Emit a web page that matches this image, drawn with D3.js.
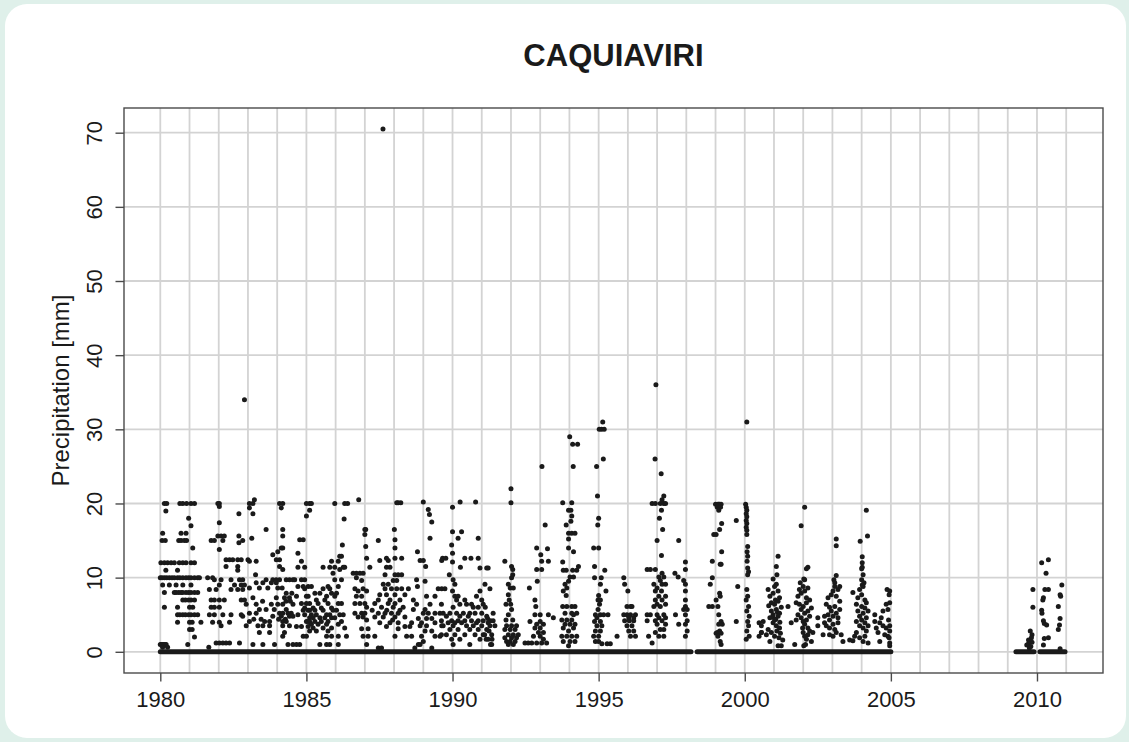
<!DOCTYPE html>
<html>
<head>
<meta charset="utf-8">
<script src="https://cdn.jsdelivr.net/npm/d3@7"></script>
<style>
  html, body { margin: 0; padding: 0; background: #dff0ea; }
  svg { display: block; font-family: "Liberation Sans", Arial, sans-serif; }
</style>
</head>
<body>
<svg id="chart"></svg>
<script>
// size of the page and of the plot box
const width = 1129; const height = 742;
const margin = {top: 108, right: 26, bottom: 69, left: 124};
const innerWidth = width - margin.left - margin.right;
const innerHeight = height - margin.top - margin.bottom;

const title = "CAQUIAVIRI";
const yTitle = "Precipitation [mm]";
const xTicks = [1980, 1985, 1990, 1995, 2000, 2005, 2010];
const yTicks = [0, 10, 20, 30, 40, 50, 60, 70];
const gridYears = d3.range(1980, 2012);

// periods with daily zero values (decimal years)
const zeroRuns = [[1980.0, 1998.16], [1998.37, 2005.0], [2009.28, 2009.9], [2010.1, 2010.96]];

// rain days read row by row: [mm, [decimal years]]
const rain1980 = [
  [34, [1982.88]],
  [20, [1980.14, 1980.22, 1980.67, 1980.77, 1980.9, 1981.05, 1981.17, 1981.97, 1982.02]],
  [19.6, [1982.02]], [19, [1980.19]], [18.6, [1982.69]], [18, [1980.97]], [17.4, [1982.02]], [17, [1981.05]],
  [16, [1980.08, 1980.71, 1980.88]],
  [15.6, [1981.97, 1982.08, 1982.19, 1982.69]],
  [15, [1980.06, 1980.17, 1980.63, 1980.71, 1980.82, 1980.9, 1981.74, 1981.85, 1982.14, 1982.82]],
  [14.7, [1982.69]], [14, [1981.11]], [13.8, [1982.02]],
  [12.4, [1982.25, 1982.37, 1982.48, 1982.65, 1982.77]],
  [12, [1980.02, 1980.14, 1980.25, 1980.37, 1980.48, 1980.65, 1980.77, 1980.88, 1981.05, 1981.17]],
  [11.5, [1982.25, 1982.65]],
  [11, [1980.19, 1980.59, 1982.65]],
  [10, [1980.0, 1980.06, 1980.14, 1980.22, 1980.31, 1980.4, 1980.48, 1980.59, 1980.67, 1980.77, 1980.88, 1980.97, 1981.05, 1981.17, 1981.28, 1981.34, 1981.62, 1981.79]],
  [9.7, [1981.85, 1982.08, 1982.42, 1982.71, 1982.82]],
  [9, [1980.08, 1980.31, 1980.54, 1980.77, 1981.05, 1982.02, 1982.54, 1982.77, 1982.88]],
  [8.4, [1981.68, 1981.91, 1982.42, 1982.65, 1982.82]],
  [8, [1980.14, 1980.48, 1980.54, 1980.63, 1980.71, 1980.77, 1980.88, 1980.97, 1981.05, 1981.17, 1981.28]],
  [7, [1980.77, 1980.86, 1980.97, 1981.05, 1981.17, 1981.74, 1981.85, 1982.02, 1982.19, 1982.77, 1982.88]],
  [6, [1980.14, 1980.59, 1981.0, 1981.11, 1981.74, 1981.85, 1982.02]],
  [5, [1980.59, 1980.67, 1980.77, 1980.86, 1980.97, 1981.05, 1981.17, 1981.28, 1981.68, 1981.85, 1982.14, 1982.42, 1982.77]],
  [4, [1980.59, 1981.0, 1981.09, 1981.39, 1981.79, 1982.02, 1982.37]],
  [3.5, [1982.08]], [3, [1981.0, 1981.09]], [2, [1981.17]],
  [1.2, [1981.91, 1982.02, 1982.14, 1982.25, 1982.37, 1982.71]],
  [1, [1980.0, 1980.04, 1980.08, 1980.12, 1980.16, 1980.2, 1980.94]],
  [0.6, [1980.08, 1980.25, 1981.66]]
];

const rain1983 = [
  [20.5, [1983.22]],
  [20, [1983.05, 1983.17, 1984.08, 1984.19]],
  [19.4, [1983.05, 1984.14]], [18.6, [1983.17]],
  [16.5, [1983.62, 1984.19]], [15.6, [1984.19]], [15.3, [1983.13]],
  [14, [1984.14, 1984.19]], [13.5, [1984.02]], [13.1, [1983.85]],
  [12.4, [1983.0, 1983.97, 1984.08]], [12.2, [1983.05, 1983.28]],
  [11.5, [1984.08]], [11.1, [1984.19]], [10.4, [1983.26]],
  [9.7, [1983.62, 1983.85, 1983.97, 1984.08, 1984.31, 1984.42, 1984.54]],
  [9.3, [1983.28, 1983.51, 1983.8, 1983.97]],
  [8.6, [1983.05, 1983.39, 1983.68, 1984.02, 1984.17]],
  [7.9, [1984.31, 1984.5]],
  [7.3, [1983.17, 1983.97, 1984.25, 1984.42]],
  [6.8, [1984.3, 1984.45, 1983.5]],
  [6.4, [1982.94, 1983.28, 1983.8, 1984.02, 1984.19, 1984.54]],
  [5.7, [1983.39, 1983.62, 1984.31, 1983.9]],
  [5.2, [1983.05, 1983.28, 1984.08, 1984.19, 1984.37, 1984.48]],
  [4.8, [1982.82, 1983.85, 1984.14, 1984.42, 1984.54]],
  [4.4, [1983.2, 1983.45, 1984.05, 1984.28]],
  [4.1, [1983.05, 1983.57, 1983.74, 1984.19, 1984.31]],
  [3.5, [1982.94, 1983.34, 1983.51, 1983.74, 1984.19, 1984.42]],
  [2.6, [1983.39, 1983.74, 1984.25]],
  [2.1, [1984.19]],
  [1, [1983.17, 1983.51, 1983.91, 1984.37, 1984.54]]
];

const rain1985 = [
  [20, [1985.0, 1985.11, 1985.17, 1985.97, 1986.31, 1986.41]],
  [19.1, [1985.11]], [18.3, [1985.0]], [17.9, [1986.29]],
  [15.1, [1984.77, 1984.89]], [14.4, [1986.23]], [13.3, [1984.71]],
  [12.9, [1986.14, 1986.2]],
  [12.2, [1984.83, 1985.86, 1986.09]],
  [11.4, [1984.71, 1984.94, 1985.57, 1985.8, 1985.97, 1986.26, 1986.31]],
  [11.1, [1986.14]], [10.6, [1985.91]],
  [9.7, [1984.6, 1984.83, 1984.94, 1985.97, 1986.2]],
  [8.8, [1984.71, 1984.89, 1985.06, 1985.17, 1985.74, 1986.09]],
  [8.5, [1984.94, 1985.57, 1985.8]],
  [7.9, [1985.29, 1985.46, 1985.86, 1986.03]],
  [7.5, [1984.66, 1985.0, 1985.06, 1985.69, 1985.97]],
  [7, [1985.34, 1985.63]],
  [6.5, [1984.83, 1985.0, 1985.11, 1985.4, 1985.74, 1986.09, 1986.2]],
  [5.9, [1984.94, 1985.23, 1985.51, 1985.86]],
  [5.6, [1984.89, 1985.06, 1985.11, 1985.29, 1985.57, 1985.91, 1986.03]],
  [5, [1984.71, 1984.94, 1985.17, 1985.34, 1985.69, 1985.8, 1986.14, 1986.26]],
  [4.6, [1985.11, 1985.23, 1985.46, 1985.63, 1985.86, 1985.97]],
  [4.1, [1985.0, 1985.06, 1985.11, 1985.29, 1985.51, 1985.74, 1986.2]],
  [3.7, [1985.17, 1985.4, 1985.69, 1986.09]],
  [3.4, [1984.66, 1984.83, 1985.06]],
  [3.2, [1985.23, 1985.57, 1985.86, 1986.31]],
  [2.8, [1985.11, 1985.34, 1985.74]],
  [2.1, [1984.89, 1985.0, 1985.69, 1985.86, 1986.09, 1986.37]],
  [1, [1984.66, 1984.77, 1985.46, 1985.69, 1985.8, 1986.09]]
];

const rain1987 = [
  [70.5, [1987.62]],
  [20.5, [1986.79]],
  [20.1, [1988.09, 1988.14, 1988.23]],
  [16.5, [1987.0, 1987.03, 1988.01]], [15.8, [1987.0]], [15.1, [1988.03]], [15, [1987.46]],
  [14.2, [1987.03]], [14, [1988.03]],
  [12.6, [1987.06, 1987.74, 1988.03, 1988.26]],
  [12.3, [1987.51, 1987.8]],
  [11.4, [1987.17, 1987.74, 1987.86]],
  [10.6, [1986.6, 1986.71, 1986.83, 1986.94]],
  [10.4, [1987.69, 1988.03, 1988.14, 1988.26]],
  [10, [1986.71]],
  [9.6, [1986.89, 1987.97, 1988.09]],
  [9.1, [1987.63, 1987.8]],
  [8.5, [1986.66, 1986.94, 1987.69, 1987.91, 1988.09, 1988.26, 1988.49]],
  [8.2, [1986.77, 1987.06]],
  [7.7, [1987.51, 1987.74, 1988.03, 1988.37]],
  [7.5, [1986.71, 1986.89]],
  [7, [1987.46, 1987.86, 1988.2]],
  [6.5, [1986.66, 1986.83, 1987.0, 1987.34, 1987.8, 1988.03]],
  [6, [1987.06, 1987.57, 1987.97, 1988.31]],
  [5.6, [1987.25, 1987.75, 1988.2]],
  [5.2, [1986.66, 1986.89, 1987.0, 1987.46, 1987.69, 1987.91, 1988.14]],
  [4.7, [1986.77, 1986.94, 1987.34, 1987.63, 1988.03, 1988.37]],
  [4.3, [1987.06, 1987.95]],
  [3.9, [1987.51, 1987.86, 1988.14]],
  [3.4, [1987.74, 1988.37, 1988.54]],
  [3.1, [1986.89, 1987.11, 1988.14]],
  [2.1, [1986.94, 1987.11, 1987.34, 1988.03, 1988.43, 1988.6]],
  [1, [1987.06]],
  [0.5, [1987.46, 1987.57]]
];

const rain1989 = [
  [20.2, [1989.0, 1990.26, 1990.79]],
  [19.5, [1990.0]], [19.2, [1989.17]], [18.5, [1989.21]], [17.5, [1989.29]],
  [16.2, [1990.0, 1990.31]],
  [15.3, [1989.23, 1990.19, 1990.88]],
  [14.4, [1989.97]], [13.5, [1988.8]], [13.3, [1990.0]],
  [12.6, [1989.66, 1989.77, 1990.42, 1990.63, 1990.88]],
  [12.3, [1988.89, 1989.0, 1989.63]],
  [12.1, [1990.0]], [11.5, [1989.08]], [11.4, [1990.27]],
  [11.3, [1990.94, 1991.17, 1991.22]],
  [10.4, [1989.89]],
  [9.7, [1988.77, 1990.02]], [9.5, [1989.06]], [9.1, [1990.08, 1991.11]], [8.8, [1988.8]],
  [8.5, [1989.51, 1989.63, 1989.74, 1991.28]],
  [8.2, [1990.0, 1990.94]],
  [7.5, [1989.11, 1989.4, 1990.08, 1990.19, 1990.82]],
  [7, [1988.66, 1990.14, 1990.42, 1991.0]],
  [6.4, [1988.77, 1989.23, 1989.62, 1990.25, 1990.48, 1990.65, 1991.05]],
  [6, [1990.02, 1990.71, 1990.88, 1991.12]],
  [5.7, [1988.66, 1989.06]],
  [5.2, [1989.0, 1989.17, 1989.4, 1989.57, 1989.68, 1989.91, 1990.14, 1990.37, 1990.59, 1990.77, 1991.0, 1991.39]],
  [4.8, [1989.79, 1990.25, 1990.54, 1991.17]],
  [4.5, [1988.83, 1989.11, 1989.29, 1991.2]],
  [4.2, [1989.62, 1989.97, 1990.19, 1990.42, 1990.65, 1990.88, 1991.05, 1991.3, 1991.39]],
  [3.9, [1988.6, 1988.94, 1989.4, 1989.85, 1990.08, 1990.31, 1990.82, 1991.22]],
  [3.5, [1988.89, 1989.11, 1989.63, 1989.68, 1990.02, 1990.48, 1990.71, 1991.0, 1991.28, 1991.45]],
  [3, [1989.91, 1990.19, 1990.59, 1990.88, 1991.17]],
  [2.8, [1989.06, 1989.29, 1991.25]],
  [2.3, [1989.62, 1989.79, 1990.08, 1990.42, 1990.77, 1991.05, 1991.1, 1991.34]],
  [2.1, [1988.94, 1989.4, 1989.57]],
  [1.7, [1989.97, 1990.25, 1990.94, 1991.15, 1991.22, 1991.35]],
  [1.4, [1989.0]],
  [1, [1988.83, 1988.89, 1990.02, 1990.59, 1991.3, 1991.34]],
  [0.5, [1988.71, 1989.29]]
];

const rain1992 = [
  [25, [1993.06]], [22, [1992.0]], [20.1, [1992.0]], [17.1, [1993.17]],
  [14, [1992.88]], [13.9, [1993.25]], [13.1, [1993.02]],
  [12.2, [1991.79, 1993.05, 1993.28]],
  [11.5, [1992.02]], [11.1, [1992.06, 1992.88, 1993.05]],
  [10.4, [1992.06]], [10, [1992.02]], [9.5, [1992.9]], [9.1, [1991.91]],
  [8.6, [1991.97, 1992.08, 1992.63]], [7.7, [1991.91]], [7, [1991.94, 1992.82]],
  [6.4, [1991.83, 1991.99]], [6.1, [1992.85]], [5.7, [1992.02]],
  [5, [1991.91, 1992.82, 1993.0, 1993.28]],
  [4.6, [1993.45]], [4.3, [1991.83, 1992.06]], [4.1, [1992.65, 1993.0]],
  [3.7, [1992.88, 1993.11]], [3.5, [1991.85, 1992.02, 1992.19]],
  [3.2, [1992.82, 1993.0]], [3, [1991.79, 1991.97, 1992.14]],
  [2.6, [1992.94, 1993.11]], [2.3, [1991.91, 1992.08, 1992.25]],
  [2.1, [1992.77, 1993.0]], [1.9, [1991.79, 1992.02, 1992.19]],
  [1.7, [1993.11]], [1.4, [1991.85, 1991.97, 1992.14]],
  [1.2, [1992.48, 1992.59, 1992.71, 1992.88, 1993.05, 1993.22]],
  [1, [1991.91, 1992.08]]
];

const rain1994 = [
  [31, [1995.14]], [30, [1995.02, 1995.1, 1995.19]], [29, [1994.01]],
  [28, [1994.11, 1994.28]], [26, [1995.16]], [25, [1994.13, 1994.93]], [21, [1994.96]],
  [20.1, [1993.77, 1994.08]], [19.1, [1993.97, 1994.05]], [18.3, [1994.08]], [18, [1995.0]],
  [17.6, [1994.05]], [17.1, [1993.89, 1994.97]],
  [16, [1993.97, 1994.08, 1994.19]], [15.2, [1993.97]],
  [14, [1993.97, 1994.83, 1995.0]], [13.5, [1994.14]], [12.1, [1993.77]],
  [11.5, [1994.31, 1994.86]],
  [11, [1993.79, 1993.89, 1994.11, 1994.25, 1995.21]],
  [10.1, [1994.02, 1994.14]], [10, [1994.86, 1995.09]],
  [9.5, [1993.97]], [9.1, [1993.85, 1995.06]], [8.6, [1993.91]],
  [8.2, [1993.79, 1995.25]], [7.6, [1993.89, 1995.0]], [7, [1994.98, 1995.06]],
  [6.4, [1995.03]], [6.1, [1993.77, 1993.91, 1994.08, 1994.19]], [5.7, [1994.98]],
  [5.2, [1993.85, 1994.08, 1994.25]],
  [5, [1994.14, 1994.89, 1995.06, 1995.17, 1995.32]],
  [4.6, [1994.94]], [4.3, [1993.74, 1993.91, 1994.08]], [4.1, [1994.86, 1995.06]],
  [3.7, [1993.85, 1994.02, 1994.19]], [3.5, [1994.94, 1995.11]],
  [3.2, [1993.79, 1994.14]], [2.8, [1993.97, 1994.89, 1995.06]],
  [2.1, [1993.74, 1993.91, 1994.08, 1994.25, 1994.83, 1995.0, 1995.63]],
  [1.4, [1993.79, 1994.02, 1994.19, 1994.89, 1995.0]],
  [1.1, [1995.11, 1995.29, 1995.4]],
  [0.8, [1993.97]]
];

const rain1996 = [
  [36, [1996.96]], [26, [1996.93]], [24, [1997.14]], [21, [1997.23]], [20.5, [1997.17]],
  [20, [1996.83, 1996.94, 1997.11, 1997.23, 1997.29]],
  [19.1, [1997.15]], [18, [1997.08]], [16.5, [1997.19]], [15, [1997.0, 1997.74]],
  [13, [1997.15]], [12.1, [1997.97]],
  [11.1, [1996.66, 1996.77, 1996.94, 1997.97]],
  [10.6, [1997.17, 1997.61]], [10.1, [1997.06, 1997.23, 1997.72]], [10, [1995.86]],
  [9.6, [1997.11, 1997.91]],
  [9.1, [1995.89, 1996.89, 1997.17, 1997.29, 1997.97]],
  [8.6, [1997.0]], [8.2, [1996.0, 1996.94, 1997.15, 1997.97]],
  [7.5, [1997.06, 1997.29]], [7, [1996.94, 1997.17, 1997.97]], [6.4, [1997.0, 1997.29]],
  [6.1, [1995.97, 1996.09, 1996.14, 1996.89, 1997.11, 1997.97]],
  [5.7, [1997.91, 1998.03]],
  [5, [1995.86, 1995.97, 1996.09, 1996.26, 1996.66, 1996.77, 1997.0, 1997.23, 1997.63, 1997.97]],
  [4.6, [1996.03, 1996.2, 1997.06, 1997.29]],
  [4.2, [1995.89, 1996.05, 1996.2, 1996.66, 1996.94, 1997.17, 1998.03]],
  [3.7, [1997.0, 1997.29, 1997.74, 1997.97]], [3.5, [1995.97, 1996.14]],
  [3, [1997.11, 1997.23]], [2.8, [1996.03, 1996.2, 1998.03]], [2.6, [1996.94]],
  [2.1, [1996.09, 1996.26, 1996.71, 1997.06, 1997.23, 1997.97]],
  [1.2, [1996.83]]
];

const rain1999 = [
  [31, [2000.07]],
  [19.9, [1999.0, 1999.08, 1999.11, 1999.14, 1999.19, 2000.03]],
  [19.5, [1999.06, 1999.17, 2000.05]], [19.1, [1999.11, 2000.07]],
  [18.6, [2000.05]], [18.2, [2000.07]], [17.7, [1999.71, 2000.05]], [17.3, [1999.21, 2000.07]],
  [16.8, [2000.05]], [16.5, [1999.14]], [16.4, [2000.07]], [15.8, [1998.94, 1999.02, 2000.07]],
  [14.2, [2000.1]], [13.5, [1999.21, 2000.08]], [12.9, [2000.1]], [12.2, [1998.89, 2000.08]],
  [11.8, [1999.16, 1999.19]], [11.3, [2000.1]], [10.8, [2000.13]], [10.4, [2000.1]],
  [10, [1998.89]], [9.1, [1998.82]], [8.8, [1999.76]], [8.4, [2000.07]], [7.9, [1999.14]],
  [7.5, [1999.16, 2000.1]], [7, [1999.02, 2000.05]],
  [6.1, [1998.77, 1998.89, 1999.08, 2000.13]], [5.5, [2000.07]], [5, [1999.11]],
  [4.8, [2000.15]], [4.1, [1999.19, 1999.71, 2000.1]], [3.9, [2000.49]],
  [3.7, [1999.11, 1999.23]], [3.5, [2000.13, 2000.57]], [2.8, [1999.14, 2000.07]],
  [2.6, [1999.06, 2000.57]], [2.5, [1999.02, 1999.19]],
  [2.1, [1999.08, 2000.15, 2000.49]], [1.7, [2000.05]], [1.4, [1999.16]], [1, [1999.19]]
];

// later years read point by point: [decimal year, mm]
const rain2001 = [
  [2001.14, 12.9], [2001.08, 11.5], [2001.1, 10.4], [2000.97, 9.8], [2001.08, 9.1], [2001.02, 8.8],
  [2000.8, 8.4], [2001.14, 8.2], [2000.97, 7.9], [2000.86, 7.5], [2001.19, 7.3], [2001.05, 7],
  [2001.14, 6.8], [2000.91, 6.6], [2001.02, 6.4], [2000.82, 6.2], [2001.25, 6], [2001.08, 5.7],
  [2000.91, 5.5], [2001.12, 5.3], [2001.19, 5.2], [2000.97, 5], [2001.14, 4.8], [2000.95, 4.7],
  [2000.86, 4.6], [2001.06, 4.4], [2001.02, 4.3], [2000.63, 4.1], [2001.2, 4], [2000.97, 3.9],
  [2001.08, 3.5], [2001.19, 3.2], [2000.8, 3], [2001.1, 2.8], [2000.91, 2.6], [2000.57, 2.6],
  [2001.22, 2.5], [2000.74, 2.3], [2001.02, 2.1], [2001.17, 1.9], [2001.3, 1.6], [2000.86, 1.4],
  [2001.14, 0.8], [2001.25, 0.8]
];

const rain2002 = [
  [2002.05, 19.5], [2001.93, 17], [2002.16, 11.4], [2002.11, 11.2], [2002.02, 9.8], [2002.05, 9.7],
  [2001.9, 9.3], [2002.0, 8.8], [2002.16, 8.6], [2001.87, 8.4], [2002.05, 8.2], [2001.93, 7.9],
  [2001.82, 7.5], [2002.11, 7.3], [2002.22, 7], [2001.76, 6.6], [2002.11, 6.6], [2001.87, 6.4],
  [2001.48, 6.1], [2002.0, 6.1], [2002.28, 5.9], [2001.93, 5.7], [2002.16, 5.5], [2002.05, 5.2],
  [2001.82, 5], [2002.22, 4.8], [2001.93, 4.6], [2002.5, 4.6], [2001.76, 4.3], [2002.11, 4.3],
  [2002.0, 4.1], [2001.59, 3.9], [2002.05, 3.7], [2002.5, 3.5], [2002.16, 3.2], [2001.98, 3.2],
  [2002.22, 2.8], [2002.0, 2.6], [2002.33, 2.6], [2002.16, 2.3], [2002.05, 2.1], [2002.11, 1.7],
  [2002.28, 1.4], [2001.71, 1], [2002.08, 1], [2002.02, 0.8]
];

const rain2003 = [
  [2003.13, 15.2], [2003.13, 14.3], [2003.13, 10.3], [2003.05, 9.7], [2003.08, 9.3],
  [2003.08, 8.8], [2003.25, 8.8], [2003.19, 8.4], [2003.02, 8.2], [2002.96, 7.7], [2003.13, 7.5],
  [2002.85, 7.3], [2003.25, 6.8], [2002.79, 6.4], [2003.08, 6.1], [2002.9, 6], [2003.25, 5.7],
  [2002.96, 5.5], [2003.13, 5.2], [2002.85, 5], [2003.02, 4.8], [2002.73, 4.8], [2003.19, 4.6],
  [2002.9, 4.3], [2002.73, 3.9], [2003.19, 3.9], [2003.02, 3.7], [2002.79, 3.5], [2002.9, 3.2],
  [2003.08, 3], [2003.13, 2.6], [2002.68, 2.3], [2002.9, 2.3], [2003.3, 2.3], [2003.02, 2.1],
  [2003.36, 1.4]
];

const rain2004 = [
  [2004.16, 19.1], [2004.2, 15.6], [2003.95, 14.9], [2004.02, 12.8], [2004.02, 12], [2004.02, 11.4],
  [2004.0, 11.2], [2004.05, 10.4], [2004.0, 9.7], [2004.08, 9.3], [2004.02, 9], [2004.05, 8.8],
  [2003.93, 8.4], [2004.87, 8.4], [2004.96, 8.2], [2003.7, 8], [2004.0, 7.7], [2004.94, 7.7],
  [2003.87, 7.3], [2004.11, 7], [2004.16, 6.6], [2004.96, 6.6], [2003.82, 6.4], [2004.84, 6.4],
  [2004.0, 6.1], [2004.11, 5.9], [2004.9, 5.7], [2003.87, 5.5], [2004.22, 5.5], [2004.73, 5.5],
  [2004.05, 5.2], [2004.45, 5], [2003.93, 4.8], [2004.16, 4.6], [2004.67, 4.6], [2004.0, 4.3],
  [2004.92, 4.3], [2003.82, 4.1], [2004.45, 4.1], [2004.11, 3.9], [2004.62, 3.9], [2003.93, 3.5],
  [2004.22, 3.5], [2004.73, 3.5], [2004.96, 3.5], [2004.05, 3.2], [2004.5, 3.2], [2004.84, 3.2],
  [2004.16, 2.8], [2004.96, 2.8], [2003.82, 2.6], [2004.56, 2.6], [2004.79, 2.3], [2003.76, 2.1],
  [2004.11, 2.1], [2004.9, 2.1], [2003.93, 1.9], [2004.94, 1.9], [2003.59, 1.6], [2003.7, 1.5],
  [2004.05, 1.4], [2004.62, 1.4], [2004.22, 1.2], [2004.96, 1.2], [2004.96, 0.8]
];

const rain2010 = [
  [2009.86, 8.4], [2009.86, 6.0], [2009.77, 2.8], [2009.83, 2.3], [2009.81, 1.9], [2009.71, 1.6],
  [2009.83, 1.3], [2009.71, 1.1], [2009.65, 0.9], [2009.79, 0.7], [2009.74, 0.5],
  [2010.39, 12.4], [2010.16, 12], [2010.31, 10.6], [2010.27, 8.4], [2010.39, 8.4], [2010.22, 7.3],
  [2010.2, 7.0], [2010.16, 5.6], [2010.17, 5.2], [2010.22, 4.2], [2010.25, 3.8], [2010.33, 3.6],
  [2010.39, 1.9], [2010.25, 1.8], [2010.22, 0.9],
  [2010.85, 9.0], [2010.79, 7.7], [2010.81, 7.5], [2010.73, 6.1], [2010.79, 4.5], [2010.77, 3.6],
  [2010.73, 3.0], [2010.79, 0.4]
];

// flatten everything into one list of points
const points = [];
[rain1980, rain1983, rain1985, rain1987, rain1989, rain1992, rain1994, rain1996, rain1999]
  .forEach(set => set.forEach(([mm, years]) => years.forEach(yr => points.push({date: yr, mm: mm}))));
[rain2001, rain2002, rain2003, rain2004, rain2010]
  .forEach(set => set.forEach(([yr, mm]) => points.push({date: yr, mm: mm})));

const svg = d3.select("#chart")
  .attr("width", width)
  .attr("height", height);

// mint background with a white rounded panel
svg.append("rect")
  .attr("width", width).attr("height", height)
  .attr("fill", "#dff0ea");
svg.append("rect")
  .attr("x", 5).attr("y", 4)
  .attr("width", 1121).attr("height", 734)
  .attr("rx", 22).attr("ry", 22)
  .attr("fill", "#ffffff");

const x = d3.scaleLinear()
  .domain([1978.758, 2012.259])
  .range([0, innerWidth]);
const y = d3.scaleLinear()
  .domain([-2.86, 73.33])
  .range([innerHeight, 0]);

const plotG = svg.append("g")
  .attr("transform", `translate(${margin.left}, ${margin.top})`);

// grid lines
plotG.append("g").selectAll("line")
  .data(gridYears)
  .enter().append("line")
    .attr("x1", d => x(d)).attr("x2", d => x(d))
    .attr("y1", 0).attr("y2", innerHeight)
    .attr("stroke", "#d3d3d3")
    .attr("stroke-width", 1.8);
plotG.append("g").selectAll("line")
  .data(yTicks)
  .enter().append("line")
    .attr("x1", 0).attr("x2", innerWidth)
    .attr("y1", d => y(d)).attr("y2", d => y(d))
    .attr("stroke", "#d3d3d3")
    .attr("stroke-width", 1.8);

// zero-rain days form a thick line at 0
plotG.append("g").selectAll("line")
  .data(zeroRuns)
  .enter().append("line")
    .attr("x1", d => x(d[0])).attr("x2", d => x(d[1]))
    .attr("y1", y(0)).attr("y2", y(0))
    .attr("stroke", "#1a1a1a")
    .attr("stroke-width", 5)
    .attr("stroke-linecap", "round");

// rain days
plotG.append("g").selectAll("circle")
  .data(points)
  .enter().append("circle")
    .attr("cx", d => x(d.date))
    .attr("cy", d => y(d.mm))
    .attr("r", 2.5)
    .attr("fill", "#1a1a1a");

// box
plotG.append("rect")
  .attr("width", innerWidth).attr("height", innerHeight)
  .attr("fill", "none")
  .attr("stroke", "#4a4a4a")
  .attr("stroke-width", 1.4);

// axes
const xAxis = plotG.append("g")
  .attr("transform", `translate(0, ${innerHeight})`)
  .call(d3.axisBottom(x).tickValues(xTicks).tickFormat(d3.format("d")).tickSize(8.5).tickPadding(10));
const yAxis = plotG.append("g")
  .call(d3.axisLeft(y).tickValues(yTicks).tickSize(8.5));

[xAxis, yAxis].forEach(ax => {
  ax.select(".domain").remove();
  ax.selectAll(".tick line").attr("stroke", "#4a4a4a").attr("stroke-width", 1.4);
  ax.selectAll("text")
    .attr("fill", "#1a1a1a")
    .attr("font-size", "22px")
    .attr("font-family", "'Liberation Sans', Arial, sans-serif");
});
// R style: y labels parallel to the axis
yAxis.selectAll("text")
  .attr("transform", "rotate(-90)")
  .attr("x", 0)
  .attr("y", -22)
  .attr("dy", 0)
  .attr("text-anchor", "middle");

// titles
svg.append("text")
  .attr("x", margin.left + innerWidth / 2)
  .attr("y", 66)
  .attr("text-anchor", "middle")
  .attr("font-size", "31px")
  .attr("font-weight", "bold")
  .attr("fill", "#1a1a1a")
  .text(title);

svg.append("text")
  .attr("transform", `translate(69, ${margin.top + innerHeight / 2}) rotate(-90)`)
  .attr("text-anchor", "middle")
  .attr("font-size", "24px")
  .attr("fill", "#1a1a1a")
  .text(yTitle);
</script>
</body>
</html>
